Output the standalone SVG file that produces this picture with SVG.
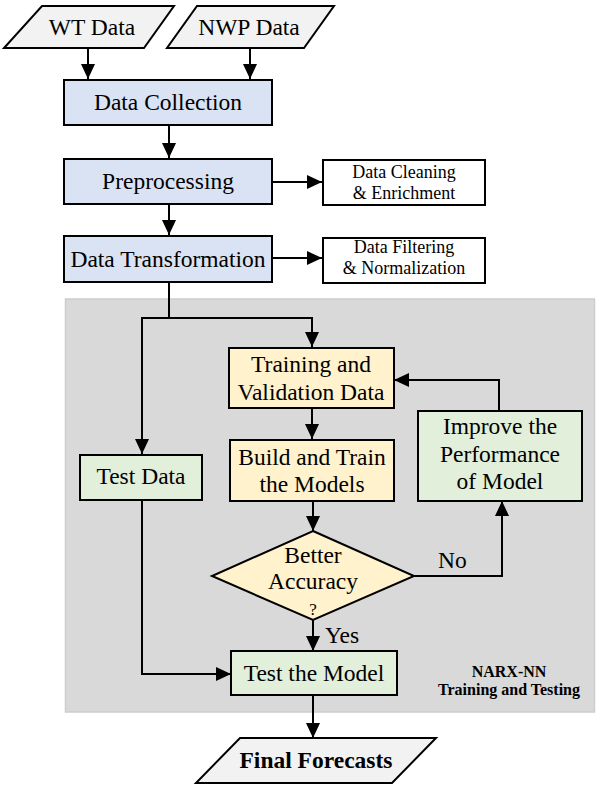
<svg xmlns="http://www.w3.org/2000/svg" width="603" height="794" viewBox="0 0 603 794">
<style>
text{font-family:"Liberation Serif","Times New Roman",serif;fill:#000;text-anchor:middle}
.t{font-size:23.5px}
.s{font-size:18px}
.n{font-size:16px;font-weight:bold}
.b{font-weight:bold}
.box{stroke:#000;stroke-width:2}
.blue{fill:#dae3f3}
.yel{fill:#fff2cc}
.grn{fill:#e2efda}
.wht{fill:#fff}
.par{fill:#f2f2f2}
.ln{fill:none;stroke:#000;stroke-width:2}
.arr{marker-end:url(#ah)}
</style>
<defs>
<marker id="ah" markerUnits="userSpaceOnUse" markerWidth="15" markerHeight="14" refX="15" refY="7" orient="auto">
<path d="M0,0 L15,7 L0,14 Z" fill="#000"/>
</marker>
</defs>
<rect width="603" height="794" fill="#fff"/>
<g id="region">
<rect x="65.5" y="299" width="529" height="413" fill="#d9d9d9" stroke="#cdcdcd" stroke-width="1.5"/>
<text class="n" x="509" y="677">NARX-NN</text>
<text class="n" x="509" y="695">Training and Testing</text>
</g>
<g id="connectors">
<line class="ln arr" x1="88" y1="48" x2="88" y2="79"/>
<line class="ln arr" x1="250" y1="48" x2="250" y2="79"/>
<line class="ln arr" x1="169" y1="126" x2="169" y2="158"/>
<line class="ln arr" x1="272" y1="182" x2="322" y2="182"/>
<line class="ln arr" x1="169" y1="205" x2="169" y2="235"/>
<line class="ln arr" x1="272" y1="258" x2="322" y2="258"/>
<polyline class="ln" points="169,282 169,318"/>
<polyline class="ln arr" points="170,318 142,318 142,454"/>
<polyline class="ln arr" points="168,318 312,318 312,347"/>
<line class="ln arr" x1="312" y1="408" x2="312" y2="439"/>
<polyline class="ln arr" points="499,411 499,380 394,380"/>
<line class="ln arr" x1="313" y1="501" x2="313" y2="531"/>
<polyline class="ln arr" points="414,576 502,576 502,501"/>
<line class="ln arr" x1="313" y1="620" x2="313" y2="651"/>
<polyline class="ln arr" points="142,500 142,674 231,674"/>
<line class="ln arr" x1="313" y1="695" x2="313" y2="738"/>
<text class="t" x="438" y="568" style="text-anchor:start">No</text>
<text class="t" x="325" y="643" style="text-anchor:start">Yes</text>
</g>
<g id="wt">
<polygon class="box par" points="42,6 174,6 144,48 4,48"/>
<text class="t" x="92" y="35">WT Data</text>
</g>
<g id="nwp">
<polygon class="box par" points="197,6 334,6 304,48 167,48"/>
<text class="t" x="249" y="35">NWP Data</text>
</g>
<g id="collection">
<rect class="box blue" x="64" y="80" width="208" height="45"/>
<text class="t" x="168" y="110">Data Collection</text>
</g>
<g id="preprocessing">
<rect class="box blue" x="64" y="159" width="208" height="45"/>
<text class="t" x="168" y="189">Preprocessing</text>
</g>
<g id="cleaning">
<rect class="box wht" x="323" y="160" width="162" height="45"/>
<text class="s" x="404" y="178">Data Cleaning</text>
<text class="s" x="404" y="199">&amp; Enrichment</text>
</g>
<g id="transformation">
<rect class="box blue" x="64" y="236" width="208" height="46"/>
<text class="t" x="168" y="267">Data Transformation</text>
</g>
<g id="filtering">
<rect class="box wht" x="323" y="238" width="162" height="45"/>
<text class="s" x="404" y="253">Data Filtering</text>
<text class="s" x="404" y="274">&amp; Normalization</text>
</g>
<g id="training">
<rect class="box yel" x="229" y="348" width="165" height="60"/>
<text class="t" x="311" y="372">Training and</text>
<text class="t" x="311" y="400">Validation Data</text>
</g>
<g id="build">
<rect class="box yel" x="230" y="440" width="164" height="61"/>
<text class="t" x="312" y="465">Build and Train</text>
<text class="t" x="312" y="492">the Models</text>
</g>
<g id="testdata">
<rect class="box grn" x="80" y="455" width="122" height="45"/>
<text class="t" x="141" y="484">Test Data</text>
</g>
<g id="improve">
<rect class="box grn" x="418" y="411" width="164" height="90"/>
<text class="t" x="500" y="434">Improve the</text>
<text class="t" x="500" y="462">Performance</text>
<text class="t" x="500" y="489">of Model</text>
</g>
<g id="decision">
<polygon class="box yel" points="313,531 414,576 313,620 212,576"/>
<text class="t" x="313" y="563">Better</text>
<text class="t" x="313" y="589">Accuracy</text>
<text x="313" y="615" style="font-size:17px">?</text>
</g>
<g id="testmodel">
<rect class="box grn" x="231" y="651" width="166" height="44"/>
<text class="t" x="314" y="681">Test the Model</text>
</g>
<g id="final">
<polygon class="box par" points="240,738 436,738 392,783 196,783"/>
<text class="t b" x="316" y="768">Final Forecasts</text>
</g>
</svg>
